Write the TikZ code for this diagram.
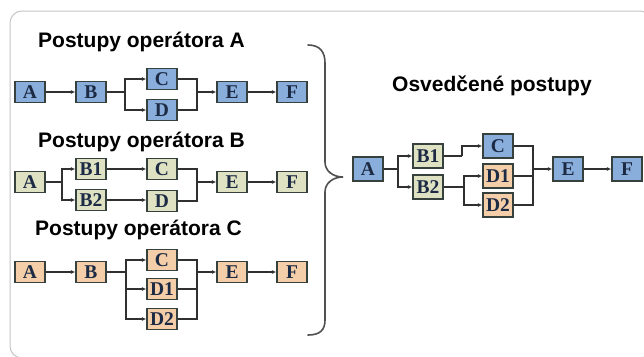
\documentclass[tikz,border=0pt]{standalone}
\usepackage{fontspec}
\setmainfont{Liberation Sans}
\newfontfamily\titlefont{Liberation Sans}
\newfontfamily\labfont{Liberation Serif}
\usetikzlibrary{arrows.meta}

\definecolor{frameline}{HTML}{C6C6C6}
\definecolor{bluefill}{HTML}{8AAEDB}
\definecolor{greenfill}{HTML}{DEE2C3}
\definecolor{orangefill}{HTML}{F4CEA8}
\definecolor{boxline}{HTML}{36403C}
\definecolor{labtext}{HTML}{1C2A44}
\definecolor{wire}{HTML}{303030}
\definecolor{bracecol}{HTML}{505050}

\tikzset{
  task/.style={draw=boxline, line width=1.4pt, minimum width=30pt, minimum height=21pt,
    inner sep=0pt, text=labtext, font=\labfont\bfseries\fontsize{19.5}{19.5}\selectfont},
  bigtask/.style={task, minimum height=24pt},
  blue/.style={fill=bluefill},
  green/.style={fill=greenfill},
  orange/.style={fill=orangefill},
  wireline/.style={draw=wire, line width=1.2pt},
  flow/.style={wireline, -{Latex[length=4.5pt,width=4pt]}},
  heading/.style={anchor=base west, inner sep=0pt, font=\titlefont\bfseries\fontsize{21}{24}\selectfont}
}

\begin{document}
\begin{tikzpicture}[x=1pt,y=-1pt]
\useasboundingbox (0,0) rectangle (644,356);
\fill[white] (0,0) rectangle (644,356);

% outer frame
\begin{scope}
\clip (0,0) rectangle (644,356);
\draw[frameline, line width=1pt, rounded corners=12pt] (10,11) rectangle (652,358);
\end{scope}

% ---------- operator A ----------
\node[heading] (tA) at (38,47) {Postupy operátora A};
\node[task,blue] (aA) at (30,92) {A};
\node[task,blue] (aB) at (91,92) {B};
\node[task,blue] (aC) at (162,79) {C};
\node[task,blue] (aD) at (162,110) {D};
\node[task,blue] (aE) at (232,92) {E};
\node[task,blue] (aF) at (292,92) {F};
\coordinate (aS) at (125,92);
\coordinate (aJ) at (197,92);
\draw[flow] (aA) -- (aB);
\draw[wireline] (aB) -- (aS);
\draw[flow] (aS) |- (aC);
\draw[flow] (aS) |- (aD);
\draw[wireline] (aC) -| (aJ);
\draw[wireline] (aD) -| (aJ);
\draw[flow] (aJ) -- (aE);
\draw[flow] (aE) -- (aF);

% ---------- operator B ----------
\node[heading] (tB) at (38,147) {Postupy operátora B};
\node[task,green] (bA) at (30,182) {A};
\node[task,green] (bB1) at (91,169) {B1};
\node[task,green] (bB2) at (91,200) {B2};
\node[task,green] (bC) at (162,169) {C};
\node[task,green] (bD) at (162,201) {D};
\node[task,green] (bE) at (232,182) {E};
\node[task,green] (bF) at (292,182) {F};
\coordinate (bS) at (62,182);
\coordinate (bJ) at (197,182);
\draw[wireline] (bA) -- (bS);
\draw[flow] (bS) |- (bB1);
\draw[flow] (bS) |- (bB2);
\draw[flow] (bB1) -- (bC);
\draw[flow] (bB2.east) -- (bD.west |- bB2.east);
\draw[wireline] (bC) -| (bJ);
\draw[wireline] (bD) -| (bJ);
\draw[flow] (bJ) -- (bE);
\draw[flow] (bE) -- (bF);

% ---------- operator C ----------
\node[heading] (tC) at (35,235) {Postupy operátora C};
\node[task,orange] (cA) at (30,272) {A};
\node[task,orange] (cB) at (91,272) {B};
\node[task,orange] (cC) at (162,260) {C};
\node[task,orange] (cD1) at (162,289) {D1};
\node[task,orange] (cD2) at (162,319) {D2};
\node[task,orange] (cE) at (232,272) {E};
\node[task,orange] (cF) at (292,272) {F};
\coordinate (cS) at (126,272);
\coordinate (cJ) at (197,272);
\draw[flow] (cA) -- (cB);
\draw[wireline] (cB) -- (cS);
\draw[flow] (cS) |- (cC);
\draw[flow] (cS) |- (cD1);
\draw[flow] (cS) |- (cD2);
\draw[wireline] (cC) -| (cJ);
\draw[wireline] (cD1) -| (cJ);
\draw[wireline] (cD2) -| (cJ);
\draw[flow] (cJ) -- (cE);
\draw[flow] (cE) -- (cF);

% ---------- brace ----------
\draw[bracecol, line width=1.6pt, line cap=round]
  (308,45) .. controls (320,45) and (325,52) .. (325,63)
  -- (325,162) .. controls (325,171) and (333,177) .. (343,177)
  .. controls (333,177) and (325,183) .. (325,192)
  -- (325,320) .. controls (325,330) and (320,335) .. (308,335);

% ---------- merged best practice ----------
\node[heading] (tR) at (392,91) {Osvedčené postupy};
\node[bigtask,blue] (rA) at (368,169) {A};
\node[bigtask,green] (rB1) at (428,156) {B1};
\node[bigtask,green] (rB2) at (428,187) {B2};
\node[bigtask,blue] (rC) at (498,146) {C};
\node[bigtask,orange] (rD1) at (498,176) {D1};
\node[bigtask,orange] (rD2) at (498,205) {D2};
\node[bigtask,blue] (rE) at (568,169) {E};
\node[bigtask,blue] (rF) at (627,169) {F};
\coordinate (rS) at (398,169);
\coordinate (rK) at (462,156);
\coordinate (rT) at (464,187);
\coordinate (rJ) at (533,169);
\draw[wireline] (rA) -- (rS);
\draw[flow] (rS) |- (rB1);
\draw[flow] (rS) |- (rB2);
\draw[wireline] (rB1) -- (rK);
\draw[flow] (rK) |- (rC);
\draw[wireline] (rB2) -- (rT);
\draw[flow] (rT) |- (rD1);
\draw[flow] (rT) |- (rD2);
\draw[wireline] (rC) -| (rJ);
\draw[wireline] (rD1) -| (rJ);
\draw[wireline] (rD2) -| (rJ);
\draw[flow] (rJ) -- (rE);
\draw[flow] (rE) -- (rF);
\end{tikzpicture}
\end{document}
